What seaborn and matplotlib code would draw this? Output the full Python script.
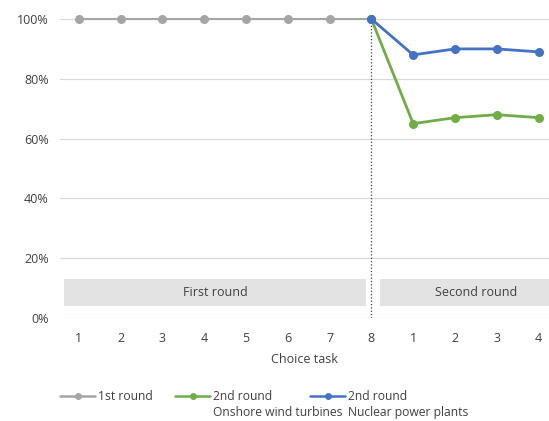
import numpy as np
import pandas as pd
import matplotlib
matplotlib.use("Agg")
import matplotlib.pyplot as plt
import seaborn as sns

# choice task labels along the x axis (first round 1-8, second round 1-4)
task_labels = ["1", "2", "3", "4", "5", "6", "7", "8", "1", "2", "3", "4"]

first_round = [1.0, 1.0, 1.0, 1.0, 1.0, 1.0, 1.0, 1.0]          # tasks 1-8
wind_second = [1.0, 0.65, 0.67, 0.68, 0.67]                     # task 8 + 2nd round 1-4
nuclear_second = [1.0, 0.88, 0.90, 0.90, 0.89]

series_names = ["1st round",
                "2nd round\nOnshore wind turbines",
                "2nd round\nNuclear power plants"]
colors = ["#A5A5A5", "#70AD47", "#4472C4"]

pos = np.arange(len(task_labels))
df = pd.concat([
    pd.DataFrame({"pos": pos[:8], "share": first_round, "series": series_names[0]}),
    pd.DataFrame({"pos": pos[7:], "share": wind_second, "series": series_names[1]}),
    pd.DataFrame({"pos": pos[7:], "share": nuclear_second, "series": series_names[2]}),
])

sns.set_style("white")
plt.rcParams["font.family"] = ["Open Sans", "DejaVu Sans"]
txt = "#404040"

W, H = 549, 421
fig = plt.figure(figsize=(W / 100, H / 100), dpi=100)
ax = fig.add_axes([60 / W, 1 - 318 / H, 1 - 60 / W, (318 - 19) / H])

# gridlines
for g in np.arange(0, 1.01, 0.2):
    ax.axhline(g, color="#D9D9D9", lw=0.9, zorder=0)

# round labels as shaded bands
ax.fill_between([-0.36, 6.88], 0.04, 0.13, color="#E3E3E3", lw=0, zorder=1)
ax.fill_between([7.2, 11.5], 0.04, 0.13, color="#E3E3E3", lw=0, zorder=1)
ax.text(3.26, 0.085, "First round", ha="center", va="center", fontsize=9, color=txt)
ax.text(9.5, 0.085, "Second round", ha="center", va="center", fontsize=9, color=txt)

# boundary between rounds
ax.axvline(7, ymin=0, ymax=1.0, color=txt, lw=0.9, ls=":", zorder=2)

sns.lineplot(data=df, x="pos", y="share", hue="series", palette=colors,
             marker="o", markersize=6.5, markeredgewidth=0, linewidth=2,
             ax=ax, legend=False, zorder=3, clip_on=False)
ax.lines[-3].set_linewidth(1.5)

ax.set_xlim(-0.45, 11.25)
ax.set_ylim(0, 1.0)
ax.set_xticks(pos)
ax.set_xticklabels(task_labels)
ax.set_yticks(np.arange(0, 1.01, 0.2))
ax.set_yticklabels([f"{int(v * 100)}%" for v in np.arange(0, 1.01, 0.2)])
ax.tick_params(axis="both", length=0, labelsize=9, colors=txt)
ax.tick_params(axis="x", pad=10)
ax.tick_params(axis="y", pad=8)
ax.set_xlabel("Choice task", fontsize=9, color=txt, labelpad=6)
ax.set_ylabel("")
sns.despine(ax=ax, left=True, bottom=True)
ax.patch.set_alpha(0)

# legend drawn by hand so that the two-line labels hang from the marker line
for x0, c, name in zip([60, 175, 310], colors, series_names):
    yl = 1 - 396 / H
    fig.add_artist(plt.Line2D([x0 / W, (x0 + 35) / W], [yl, yl], color=c, lw=1.8,
                              transform=fig.transFigure))
    fig.add_artist(plt.Line2D([(x0 + 17.5) / W], [yl], color=c, marker="o",
                              markersize=5, markeredgewidth=0, transform=fig.transFigure))
    fig.text((x0 + 38) / W, 1 - 390 / H, name, ha="left", va="top", fontsize=8.7,
             color=txt, linespacing=1.3)

fig.savefig("out.png", dpi=100)
